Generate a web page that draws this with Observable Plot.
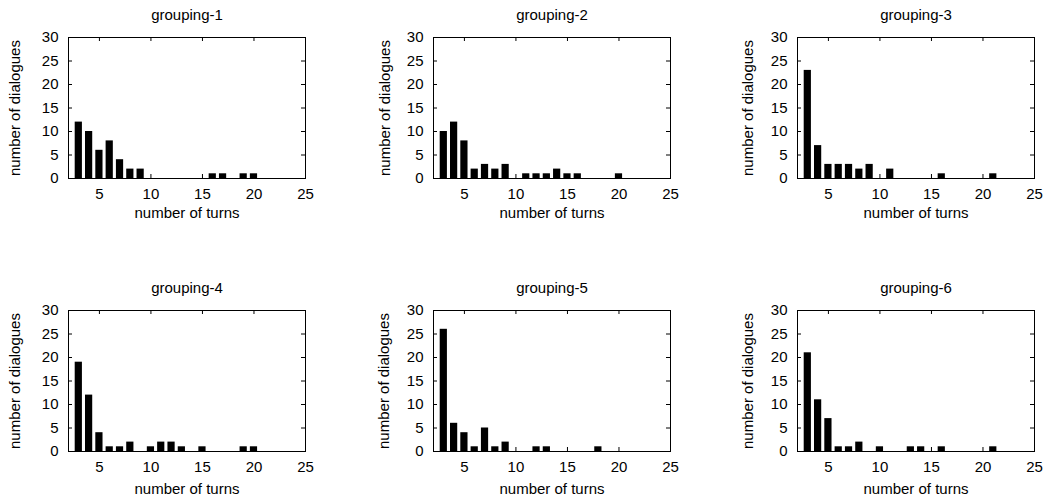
<!DOCTYPE html>
<html><head><meta charset="utf-8">
<script src="https://cdn.jsdelivr.net/npm/d3@7"></script>
<script src="https://cdn.jsdelivr.net/npm/@observablehq/plot@0.6"></script>
<style>
body{margin:0;background:#fff;}
#chart{position:relative;width:1047px;height:497px;background:#fff;overflow:hidden;}
#chart svg{position:absolute;}
</style></head><body><div id="chart"></div>
<script>
// ---- data ----
const titles = ["grouping-1","grouping-2","grouping-3","grouping-4","grouping-5","grouping-6"];
const turns1 = [3,4,5,6,7,8,9,16,17,19,20];
const counts1 = [12,10,6,8,4,2,2,1,1,1,1];
const turns2 = [3,4,5,6,7,8,9,11,12,13,14,15,16,20];
const counts2 = [10,12,8,2,3,2,3,1,1,1,2,1,1,1];
const turns3 = [3,4,5,6,7,8,9,11,16,21];
const counts3 = [23,7,3,3,3,2,3,2,1,1];
const turns4 = [3,4,5,6,7,8,10,11,12,13,15,19,20];
const counts4 = [19,12,4,1,1,2,1,2,2,1,1,1,1];
const turns5 = [3,4,5,6,7,8,9,12,13,18];
const counts5 = [26,6,4,1,5,1,2,1,1,1];
const turns6 = [3,4,5,6,7,8,10,13,14,16,21];
const counts6 = [21,11,7,1,1,2,1,1,1,1,1];
const xTickValues = [5,10,15,20,25];
const yTickValues = [0,5,10,15,20,25,30];
const xDomain = [2,25];
const yDomain = [0,30];
const xLabel = "number of turns";
const yLabel = "number of dialogues";

const allTurns = [turns1,turns2,turns3,turns4,turns5,turns6];
const allCounts = [counts1,counts2,counts3,counts4,counts5,counts6];

// ---- layout ----
const FONT = '"Liberation Sans", Arial, Helvetica, sans-serif';
const FS = 15;
const plotW = 237, plotH = 141;
const svgLefts = [0, 349, 698];
const plotLefts = [68, 433, 797];
const svgTops = [0, 248];
const svgHeights = [248, 249];
const plotTops = [37, 310];
const yLabelDx = [[-53,-48,-49],[-53,-49,-49]];
const xLabelDy = [35, 38];
const tickLen = 4;
const halfBar = 0.35;

const container = document.getElementById("chart");

for (let i = 0; i < 6; i++) {
  const r = Math.floor(i / 3), c = i % 3;
  const data = allTurns[i].map((t, j) => ({turns: t, count: allCounts[i][j]}));
  const width = 349;
  const height = svgHeights[r];
  const marginLeft = plotLefts[c] - svgLefts[c];
  const marginRight = width - marginLeft - plotW;
  const marginTop = plotTops[r] - svgTops[r];
  const marginBottom = height - marginTop - plotH;
  const inner = xTickValues.filter(v => v > xDomain[0] && v < xDomain[1]);
  const innerY = yTickValues.filter(v => v > yDomain[0] && v < yDomain[1]);
  const chart = Plot.plot({
    width, height, marginLeft, marginRight, marginTop, marginBottom,
    style: {fontFamily: FONT, fontSize: FS + "px", color: "black", background: "white", overflow: "visible"},
    x: {domain: xDomain, ticks: xTickValues, tickSize: 0, tickPadding: 10, label: null, tickFormat: d => String(d)},
    y: {domain: yDomain, ticks: yTickValues, tickSize: 0, tickPadding: 10, label: null, tickFormat: d => String(d)},
    marks: [
      Plot.rectY(data, {x1: d => d.turns - halfBar, x2: d => d.turns + halfBar, y1: 0, y2: "count", fill: "black"}),
      Plot.tickX(inner, {x: d => d, insetTop: plotH - tickLen, stroke: "black"}),
      Plot.tickX(inner, {x: d => d, insetBottom: plotH - tickLen, stroke: "black"}),
      Plot.tickY(innerY, {y: d => d, insetRight: plotW - tickLen, stroke: "black"}),
      Plot.tickY(innerY, {y: d => d, insetLeft: plotW - tickLen, stroke: "black"}),
      Plot.frame({stroke: "black", strokeWidth: 1}),
      Plot.text([titles[i]], {text: d => d, frameAnchor: "top", lineAnchor: "middle", textAnchor: "middle", dy: -22, fontSize: FS, fill: "black"}),
      Plot.text([xLabel], {text: d => d, frameAnchor: "bottom", lineAnchor: "middle", textAnchor: "middle", dy: xLabelDy[r], fontSize: FS, fill: "black"}),
      Plot.text([yLabel], {text: d => d, frameAnchor: "left", lineAnchor: "middle", textAnchor: "middle", dx: yLabelDx[r][c], rotate: -90, fontSize: FS, fill: "black"})
    ]
  });
  chart.style.left = svgLefts[c] + "px";
  chart.style.top = svgTops[r] + "px";
  container.appendChild(chart);
}
</script>
</body></html>
